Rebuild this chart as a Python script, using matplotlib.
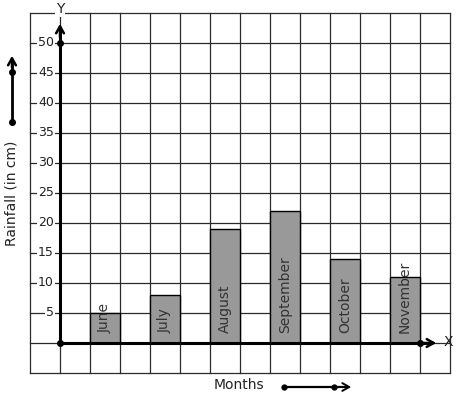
import matplotlib
matplotlib.use("Agg")
import matplotlib.pyplot as plt

months = ["June", "July", "August", "September", "October", "November"]
rainfall = [5, 8, 19, 22, 14, 11]
bar_pos = [1.5, 3.5, 5.5, 7.5, 9.5, 11.5]
yticks = [5, 10, 15, 20, 25, 30, 35, 40, 45, 50]

W, H = 457, 399
fig = plt.figure(figsize=(W / 100, H / 100), dpi=100)
ax = fig.add_axes([0, 0, 1, 1])
ax.set_axis_off()

# pixel -> data mapping: px = 60 + 30*u ; py = 343 - 6*v
def P(px, py):
    return ((px - 60) / 30.0, (343 - py) / 6.0)

x0, _ = P(0, 0)
x1, _ = P(W, 0)
_, y0 = P(0, H)
_, y1 = P(0, 0)
ax.set_xlim(x0, x1)
ax.set_ylim(y0, y1)

gc = "#2a2a2a"
for u in range(-1, 14):
    ax.plot([u, u], [-5, 55], color=gc, lw=0.9, zorder=1)
for v in range(-5, 56, 5):
    ax.plot([-1, 13], [v, v], color=gc, lw=0.9, zorder=1)

ax.bar(bar_pos, rainfall, width=1, color="#999999", edgecolor="black", lw=1, zorder=2)

fs = 9
fl = 10
for t in yticks:
    ax.text(-0.2, t, str(t), ha="right", va="center", fontsize=fs, color="#222222",
            bbox=dict(facecolor="white", edgecolor="none", pad=0.6), zorder=3)

for x, m in zip(bar_pos, months):
    ax.text(x, 1.67, m, rotation=90, ha="center", va="bottom", fontsize=fl,
            color="#333333", zorder=4)

# axes with arrows
ax.plot([0, 0], [0, 52.5], color="black", lw=2.2, zorder=5, solid_capstyle="butt")
ax.annotate("", xy=P(60, 21), xytext=P(60, 40),
            arrowprops=dict(arrowstyle="->,head_length=0.5,head_width=0.28", color="black", lw=1.8),
            zorder=5)
ax.plot([0, 12.4], [0, 0], color="black", lw=2.2, zorder=5, solid_capstyle="butt")
ax.annotate("", xy=P(439, 343), xytext=P(420, 343),
            arrowprops=dict(arrowstyle="->,head_length=0.5,head_width=0.28", color="black", lw=1.8),
            zorder=5)
ax.plot([0, 0, 12], [50, 0, 0], "o", color="black", ms=4, zorder=6)

ax.text(*P(60, 9), "Y", ha="center", va="center", fontsize=fl, color="#222222",
        bbox=dict(facecolor="white", edgecolor="none", pad=0.5), zorder=6)
ax.text(*P(448, 342), "X", ha="center", va="center", fontsize=fl, color="#222222", zorder=6)

# side label and arrow
ax.text(*P(12, 193), "Rainfall (in cm)", rotation=90, ha="center", va="center",
        fontsize=fl, color="#222222")
ax.plot(*zip(P(12, 122), P(12, 60)), color="black", lw=2, solid_capstyle="butt")
ax.annotate("", xy=P(12, 53), xytext=P(12, 70),
            arrowprops=dict(arrowstyle="->,head_length=0.5,head_width=0.28", color="black", lw=1.8))
ax.plot(*zip(P(12, 122), P(12, 72)), "o", color="black", ms=4, ls="none")

# bottom label and arrow
ax.text(*P(239, 385), "Months", ha="center", va="center", fontsize=fl, color="#222222")
ax.plot(*zip(P(284, 387), P(348, 387)), color="black", lw=1.6, solid_capstyle="butt")
ax.annotate("", xy=P(354, 387), xytext=P(336, 387),
            arrowprops=dict(arrowstyle="->,head_length=0.5,head_width=0.28", color="black", lw=1.4))
ax.plot(*zip(P(284, 387), P(334, 387)), "o", color="black", ms=3.5, ls="none")

fig.savefig("out.png", dpi=100)
